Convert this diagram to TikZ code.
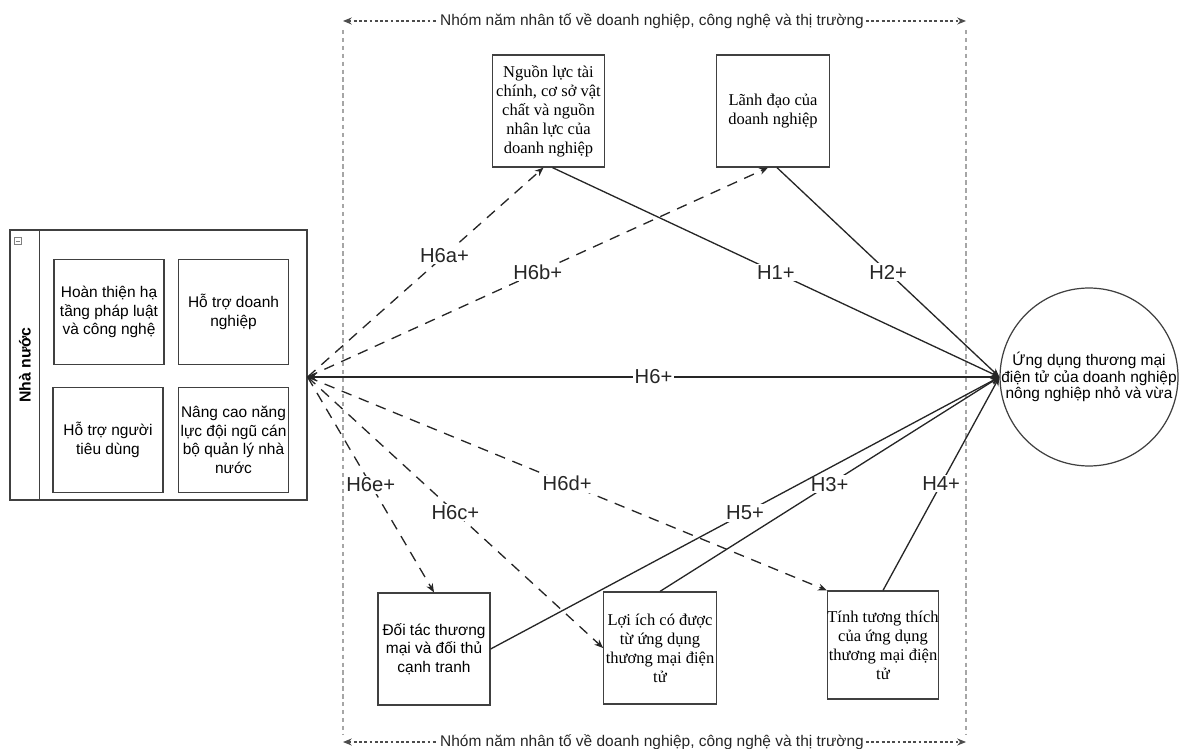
\documentclass[tikz,border=0pt]{standalone}
\usepackage{fontspec}
\setmainfont{Liberation Serif}
\setsansfont{Liberation Sans}
\usetikzlibrary{arrows.meta,positioning,calc}

\begin{document}
\begin{tikzpicture}[x=0.02cm,y=-0.02cm,
  box/.style={draw=black!75,line width=0.7pt,minimum width=2.25cm,minimum height=2.24cm,align=center,inner sep=0pt,font=\fontsize{9.4}{10.8}\selectfont},
  sbox/.style={box,minimum width=2.2cm,minimum height=2.1cm,font=\sffamily\fontsize{8.8}{10.6}\selectfont},
  hyp/.style={draw=black!85,line width=0.75pt,-{Stealth[length=5pt,width=4pt]}},
  dhyp/.style={hyp,dash pattern=on 6pt off 4.5pt},
  hlab/.style={fill=white,inner sep=1pt,font=\sffamily\fontsize{11.5}{12}\selectfont,text=black!85},
  frame/.style={draw=black!35,line width=0.6pt,dash pattern=on 2.5pt off 2pt},
  grp/.style={draw=black!70,line width=0.6pt,dash pattern=on 1.6pt off 1.4pt},
  grplab/.style={fill=white,inner sep=1pt,font=\sffamily\fontsize{8.8}{10}\selectfont,text=black!85}]
\useasboundingbox (0,0) rectangle (1179,749);
\coordinate (ftl) at (343,21);
\coordinate (ftr) at (966,21);
\coordinate (fbl) at (343,742);
\coordinate (fbr) at (966,742);
\coordinate (fl1) at (343,30);
\coordinate (fl2) at (343,735);
\coordinate (fr1) at (966,30);
\coordinate (fr2) at (966,735);
\draw[frame] (fl1) -- (fl2);
\draw[frame] (fr1) -- (fr2);
\node[grplab] (toplab) at (652,21) {Nhóm năm nhân tố về doanh nghiệp, công nghệ và thị trường};
\draw[grp,{Stealth[length=5pt,width=4pt]}-] (ftl) -- (toplab.west);
\draw[grp,-{Stealth[length=5pt,width=4pt]}] (toplab.east) -- (ftr);
\node[grplab] (botlab) at (652,742) {Nhóm năm nhân tố về doanh nghiệp, công nghệ và thị trường};
\draw[grp,{Stealth[length=5pt,width=4pt]}-] (fbl) -- (botlab.west);
\draw[grp,-{Stealth[length=5pt,width=4pt]}] (botlab.east) -- (fbr);
\node[box] (b1) at (548.5,111) {Nguồn lực tài\\chính, cơ sở vật\\chất và nguồn\\nhân lực của\\doanh nghiệp};
\node[box] (b2) at (773,111) {Lãnh đạo của\\doanh nghiệp};
\node[sbox,minimum width=2.24cm,minimum height=2.24cm] (e) at (434,649) {Đối tác thương\\mại và đối thủ\\cạnh tranh};
\node[box] (f) at (660,648) {Lợi ích có được\\từ ứng dụng\\thương mại điện\\tử};
\node[box,minimum width=2.2cm,minimum height=2.16cm] (g) at (883,645) {Tính tương thích\\của ứng dụng\\thương mại điện\\tử};
\node[circle,draw=black!75,line width=0.7pt,minimum size=3.56cm,inner sep=0pt,
  label={[align=center,font=\sffamily\fontsize{8.8}{9.6}\selectfont]center:{Ứng dụng thương mại\\điện tử của doanh nghiệp\\nông nghiệp nhỏ và vừa}}] (c) at (1089,377) {};
\node[draw=black!75,line width=0.7pt,minimum width=5.94cm,minimum height=5.4cm,inner sep=0pt] (state) at (158.5,365) {};
\draw[draw=black!75,line width=0.7pt] ([xshift=0.6cm]state.north west) -- ([xshift=0.6cm]state.south west);
\node[rotate=90,font=\sffamily\bfseries\fontsize{9}{10}\selectfont] (statetitle) at (25,365) {Nhà nước};
\node[draw=black!50,line width=0.4pt,minimum size=0.15cm,inner sep=0pt] (tog) at (18,241) {};
\draw[black!50,line width=0.4pt] ([xshift=1pt]tog.west) -- ([xshift=-1pt]tog.east);
\node[sbox] (sa) at (109,312) {Hoàn thiện hạ\\tầng pháp luật\\và công nghệ};
\node[sbox] (sb) at (233.5,312) {Hỗ trợ doanh\\nghiệp};
\node[sbox] (sc) at (108,440) {Hỗ trợ người\\tiêu dùng};
\node[sbox] (sd) at (233.5,440) {Nâng cao năng\\lực đội ngũ cán\\bộ quản lý nhà\\nước};
\coordinate (sx) at (c.west -| state.east);
\draw[dhyp] (sx) -- (b1.-95) node[hlab,pos=0.58] (h6a) {H6a+};
\draw[dhyp] (sx) -- (b2.-95) node[hlab,midway] (h6b) {H6b+};
\draw[hyp] (b1.-86) -- (c.west) node[hlab,midway] (h1) {H1+};
\draw[hyp] (b2.-86) -- (c.west) node[hlab,midway] (h2) {H2+};
\draw[hyp] (c.west) -- (sx) node[hlab,midway] (h6) {H6+};
\draw[dhyp] (sx) -- (e.north) node[hlab,midway] (h6e) {H6e+};
\draw[dhyp] (sx) -- (f.west) node[hlab,midway] (h6c) {H6c+};
\draw[dhyp] (sx) -- (g.north west) node[hlab,midway] (h6d) {H6d+};
\draw[hyp] (f.north) -- (c.west) node[hlab,midway] (h3) {H3+};
\draw[hyp] (g.north) -- (c.west) node[hlab,midway] (h4) {H4+};
\draw[hyp] (e.east) -- (c.west) node[hlab,midway] (h5) {H5+};
\end{tikzpicture}
\end{document}
